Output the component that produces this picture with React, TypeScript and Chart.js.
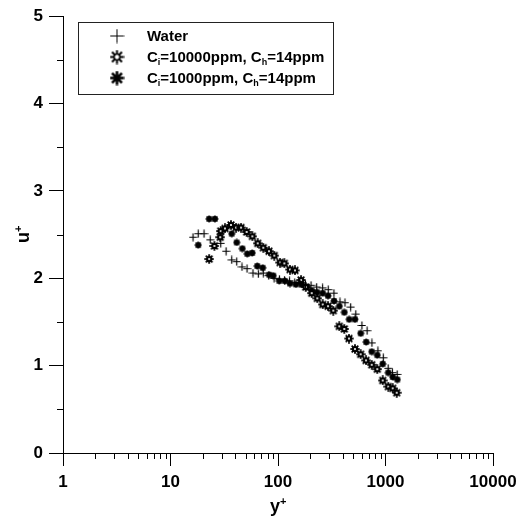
import React, { useEffect, useRef } from 'react';
import { Chart, registerables } from 'chart.js';
Chart.register(...registerables);

// ---- data ----
const waterYPlus = [16.2, 18.1, 20.5, 23.4, 29.3, 32.9, 37.1, 41.3, 46.2, 51.5, 58.5, 65.6, 73, 82, 92, 103, 115, 128, 143, 160, 180, 203, 229, 260, 293, 331, 377, 420, 474, 529, 603, 674, 747, 850, 953, 1058, 1160, 1284];
const waterUPlus = [2.47, 2.51, 2.51, 2.44, 2.40, 2.31, 2.21, 2.19, 2.13, 2.11, 2.06, 2.05, 2.06, 2.03, 2.00, 1.99, 1.98, 1.97, 1.95, 1.94, 1.93, 1.92, 1.90, 1.89, 1.87, 1.83, 1.73, 1.72, 1.67, 1.59, 1.46, 1.40, 1.26, 1.17, 1.09, 0.97, 0.92, 0.90];

const c10000YPlus = [22.9, 25.6, 29.0, 29.3, 32.1, 36.5, 40.7, 45.3, 51.1, 57.7, 64.8, 73.0, 82.4, 92.4, 104.4, 114.5, 129.3, 143.9, 163.7, 181, 205.8, 232, 260.6, 291.9, 326.9, 371.5, 413.8, 457.5, 520, 587.6, 658.6, 744, 839, 942, 1062, 1167, 1271];
const c10000UPlus = [2.22, 2.37, 2.47, 2.54, 2.57, 2.61, 2.58, 2.58, 2.53, 2.48, 2.40, 2.35, 2.31, 2.26, 2.18, 2.17, 2.10, 2.09, 1.98, 1.90, 1.83, 1.77, 1.70, 1.68, 1.63, 1.45, 1.42, 1.31, 1.19, 1.13, 1.06, 1.01, 0.96, 0.83, 0.76, 0.74, 0.69];

const c1000YPlus = [18.1, 22.9, 25.9, 37.1, 41.3, 46.6, 51.8, 57.6, 64.2, 72.1, 83, 90.4, 102.8, 116, 129.3, 147, 166, 185, 206, 231, 260.6, 292, 332, 372, 414, 460, 520, 588, 662, 744, 839, 942, 1062, 1167, 1288];
const c1000UPlus = [2.38, 2.68, 2.68, 2.51, 2.41, 2.34, 2.28, 2.29, 2.14, 2.12, 2.04, 2.03, 1.97, 1.97, 1.94, 1.93, 1.93, 1.90, 1.86, 1.84, 1.83, 1.80, 1.74, 1.68, 1.61, 1.53, 1.53, 1.37, 1.27, 1.16, 1.12, 1.02, 0.92, 0.87, 0.84];

const seriesLabels = ['Water', 'C_i=10000ppm, C_h=14ppm', 'C_i=1000ppm, C_h=14ppm'];

const xTickValues = [1, 10, 100, 1000, 10000];
const yTickValues = [0, 1, 2, 3, 4, 5];
const yMinorTickValues = [0.5, 1.5, 2.5, 3.5, 4.5];
const xAxisTitle = 'y';
const yAxisTitle = 'u';

const FONT = '"Liberation Sans", Arial, Helvetica, sans-serif';

function makeCanvas(size: number, draw: (c: CanvasRenderingContext2D, r: number) => void) {
  const cv = document.createElement('canvas');
  cv.width = size;
  cv.height = size;
  const c = cv.getContext('2d')!;
  c.translate(size / 2, size / 2);
  draw(c, size / 2);
  return cv;
}

function spokes(c: CanvasRenderingContext2D, r0: number, r1: number, lw: number) {
  c.strokeStyle = '#000';
  c.lineWidth = lw;
  c.lineCap = 'butt';
  for (let i = 0; i < 8; i++) {
    const a = (i * Math.PI) / 4;
    c.beginPath();
    c.moveTo(Math.cos(a) * r0, Math.sin(a) * r0);
    c.lineTo(Math.cos(a) * r1, Math.sin(a) * r1);
    c.stroke();
  }
}

function markerHollowStar(size: number, big: boolean) {
  return makeCanvas(size, (c, r) => {
    if (big) {
      spokes(c, 2.5, r - 0.5, 2);
      c.beginPath();
      c.arc(0, 0, 3, 0, Math.PI * 2);
      c.lineWidth = 1.6;
      c.stroke();
    } else {
      spokes(c, 0, r - 0.3, 1.8);
      c.beginPath();
      c.arc(0, 0, r * 0.62, 0, Math.PI * 2);
      c.fillStyle = '#000';
      c.fill();
      c.beginPath();
      c.arc(0, 0, 1.1, 0, Math.PI * 2);
      c.fillStyle = '#fff';
      c.fill();
    }
  });
}

function markerSolidStar(size: number, big: boolean) {
  return makeCanvas(size, (c, r) => {
    if (big) {
      spokes(c, 0, r - 0.5, 2.6);
      c.beginPath();
      c.arc(0, 0, 3, 0, Math.PI * 2);
      c.fillStyle = '#000';
      c.fill();
    } else {
      spokes(c, 0, r - 0.5, 1.4);
      c.beginPath();
      c.arc(0, 0, r * 0.72, 0, Math.PI * 2);
      c.fillStyle = '#000';
      c.fill();
    }
  });
}

function markerCross(size: number, lw: number) {
  return makeCanvas(size, (c, r) => {
    c.strokeStyle = '#000';
    c.lineWidth = lw;
    c.beginPath();
    c.moveTo(-r + 0.5, 0);
    c.lineTo(r - 0.5, 0);
    c.moveTo(0, -r + 0.5);
    c.lineTo(0, r - 0.5);
    c.stroke();
  });
}

function drawRich(ctx: CanvasRenderingContext2D, text: string, x: number, y: number, size: number, draw: boolean) {
  let cx = x;
  let i = 0;
  while (i < text.length) {
    if (text[i] === '_' && i + 1 < text.length) {
      ctx.font = `bold ${Math.round(size * 0.62)}px ${FONT}`;
      if (draw) ctx.fillText(text[i + 1], cx, y + size * 0.3);
      cx += ctx.measureText(text[i + 1]).width;
      i += 2;
    } else {
      let j = i;
      while (j < text.length && text[j] !== '_') j++;
      const seg = text.slice(i, j);
      ctx.font = `bold ${size}px ${FONT}`;
      if (draw) ctx.fillText(seg, cx, y);
      cx += ctx.measureText(seg).width;
      i = j;
    }
  }
  return cx;
}

const extrasPlugin = {
  id: 'extras',
  afterDraw(chart: any) {
    const ctx: CanvasRenderingContext2D = chart.ctx;
    const xs = chart.scales.x;
    const ys = chart.scales.y;
    ctx.save();
    ctx.strokeStyle = '#000';
    ctx.lineWidth = 1;
    for (let d = 0; d < 4; d++) {
      for (let m = 2; m <= 9; m++) {
        const v = m * Math.pow(10, d);
        const px = Math.round(xs.getPixelForValue(v)) + 0.5;
        ctx.beginPath();
        ctx.moveTo(px, ys.bottom);
        ctx.lineTo(px, ys.bottom + 6);
        ctx.stroke();
      }
    }
    for (const v of yMinorTickValues) {
      const py = Math.round(ys.getPixelForValue(v)) + 0.5;
      ctx.beginPath();
      ctx.moveTo(xs.left, py);
      ctx.lineTo(xs.left - 6, py);
      ctx.stroke();
    }
    // axis titles
    ctx.fillStyle = '#000';
    ctx.textBaseline = 'alphabetic';
    ctx.textAlign = 'left';
    const cxm = (xs.left + xs.right) / 2;
    ctx.font = `bold 18px ${FONT}`;
    const wy = ctx.measureText(xAxisTitle).width;
    ctx.fillText(xAxisTitle, cxm - wy / 2 - 3, 512);
    ctx.font = `bold 11px ${FONT}`;
    ctx.fillText('+', cxm + wy / 2 - 3, 505);

    const cym = (ys.top + ys.bottom) / 2;
    ctx.save();
    ctx.translate(29, cym);
    ctx.rotate(-Math.PI / 2);
    ctx.font = `bold 18px ${FONT}`;
    const wu = ctx.measureText(yAxisTitle).width;
    ctx.fillText(yAxisTitle, -wu / 2 - 3, 0);
    ctx.font = `bold 11px ${FONT}`;
    ctx.fillText('+', wu / 2 - 3, -7);
    ctx.restore();

    // legend
    const fs = 15;
    const textX = 147;
    const rows = [36, 57, 78];
    let maxEnd = 0;
    ctx.textBaseline = 'middle';
    for (const lab of seriesLabels) maxEnd = Math.max(maxEnd, drawRich(ctx, lab, textX, 0, fs, false));
    const bx = 78.5, by = 22.5;
    const bw = Math.round(maxEnd + 9 - bx);
    const bh = 72;
    ctx.strokeStyle = '#222';
    ctx.lineWidth = 1;
    ctx.strokeRect(bx, by, bw, bh);
    const markers = [markerCross(15, 1), markerHollowStar(15, true), markerSolidStar(15, true)];
    for (let k = 0; k < 3; k++) {
      const m = markers[k];
      ctx.drawImage(m, 117 - m.width / 2, rows[k] - m.height / 2);
      ctx.fillStyle = '#000';
      drawRich(ctx, seriesLabels[k], textX, rows[k] + 1, fs, true);
    }
    ctx.restore();
  },
};

export default function App() {
  const ref = useRef<HTMLCanvasElement | null>(null);
  useEffect(() => {
    const canvas = ref.current!;
    const toPts = (xs: number[], ys: number[]) => xs.map((x, i) => ({ x, y: ys[i] }));
    const chart = new Chart(canvas, {
      type: 'scatter',
      data: {
        datasets: [
          {
            label: seriesLabels[0],
            data: toPts(waterYPlus, waterUPlus),
            pointStyle: markerCross(9, 1.2) as any,
            pointRadius: 4,
          },
          {
            label: seriesLabels[1],
            data: toPts(c10000YPlus, c10000UPlus),
            pointStyle: markerHollowStar(10, false) as any,
            pointRadius: 5,
          },
          {
            label: seriesLabels[2],
            data: toPts(c1000YPlus, c1000UPlus),
            pointStyle: markerSolidStar(8, false) as any,
            pointRadius: 4,
          },
        ],
      },
      plugins: [extrasPlugin],
      options: {
        animation: false,
        responsive: false,
        events: [],
        layout: { padding: { left: 0, right: 34, top: 16, bottom: 0 } },
        plugins: { legend: { display: false }, tooltip: { enabled: false } },
        scales: {
          x: {
            type: 'logarithmic',
            min: 1,
            max: 10000,
            afterBuildTicks: (s: any) => {
              s.ticks = xTickValues.map((v) => ({ value: v, major: true }));
            },
            afterFit: (s: any) => {
              s.height = 66;
            },
            border: { display: true, color: '#000', width: 1 },
            grid: { drawOnChartArea: false, drawTicks: true, tickLength: 13, tickColor: '#000', tickWidth: 1 },
            ticks: {
              autoSkip: false,
              maxRotation: 0,
              padding: 6,
              color: '#000',
              font: { family: FONT, size: 17, weight: 'bold' },
              callback: (v: any) => String(v),
            },
          },
          y: {
            type: 'linear',
            min: 0,
            max: 5,
            afterBuildTicks: (s: any) => {
              s.ticks = yTickValues.map((v) => ({ value: v }));
            },
            afterFit: (s: any) => {
              s.width = 63;
            },
            border: { display: true, color: '#000', width: 1 },
            grid: { drawOnChartArea: false, drawTicks: true, tickLength: 14, tickColor: '#000', tickWidth: 1 },
            ticks: {
              padding: 6,
              color: '#000',
              font: { family: FONT, size: 17, weight: 'bold' },
              callback: (v: any) => String(v),
            },
          },
        },
      },
    } as any);
    return () => chart.destroy();
  }, []);
  return (
    <div style={{ position: 'fixed', left: 0, top: 0, width: 527, height: 519, background: '#fff' }}>
      <canvas ref={ref} width={527} height={519} style={{ width: 527, height: 519, display: 'block' }} />
    </div>
  );
}
